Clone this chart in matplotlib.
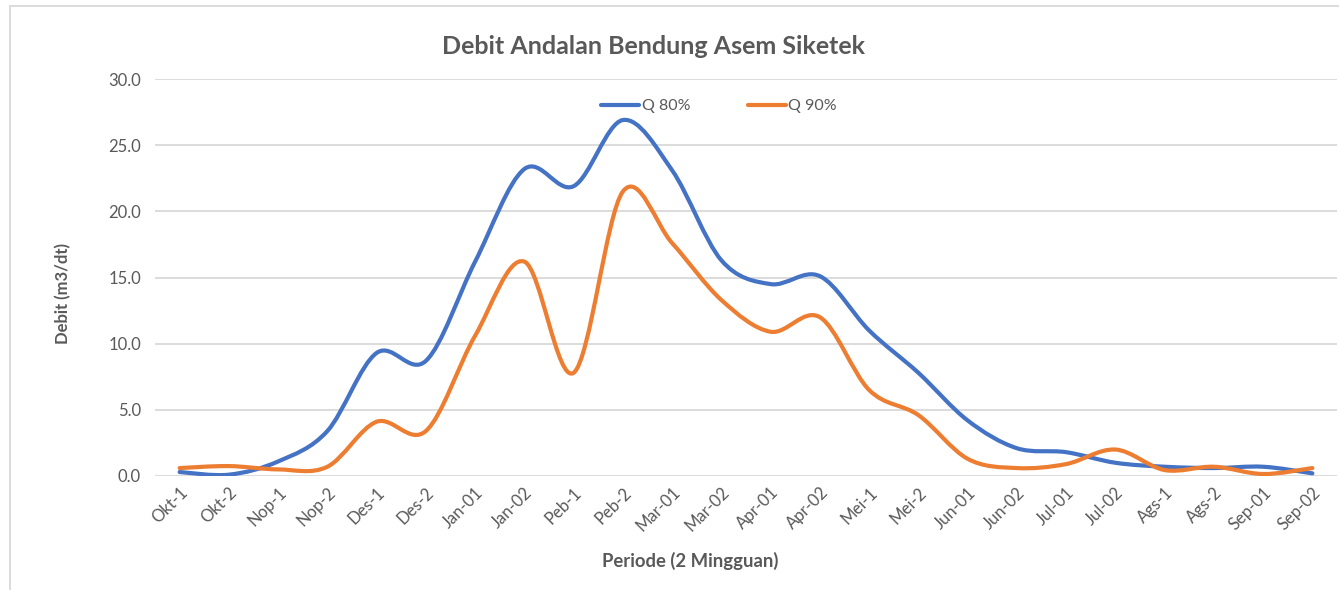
import numpy as np
import matplotlib.pyplot as plt
from matplotlib.path import Path
from matplotlib.patches import PathPatch, Rectangle
from matplotlib.lines import Line2D

plt.rcParams['font.family'] = ['Lato', 'DejaVu Sans']

periods = ['Okt-1', 'Okt-2', 'Nop-1', 'Nop-2', 'Des-1', 'Des-2', 'Jan-01', 'Jan-02',
           'Peb-1', 'Peb-2', 'Mar-01', 'Mar-02', 'Apr-01', 'Apr-02', 'Mei-1', 'Mei-2',
           'Jun-01', 'Jun-02', 'Jul-01', 'Jul-02', 'Ags-1', 'Ags-2', 'Sep-01', 'Sep-02']
q80 = [0.3, 0.1, 1.1, 3.4, 9.3, 8.7, 16.2, 23.2, 21.9, 26.9, 23.1, 16.3,
       14.5, 15.1, 11.0, 7.8, 4.2, 2.1, 1.8, 1.0, 0.7, 0.6, 0.7, 0.2]
q90 = [0.6, 0.75, 0.5, 0.7, 4.1, 3.4, 10.6, 16.2, 7.8, 21.5, 17.6, 13.3,
       10.9, 12.0, 6.5, 4.6, 1.3, 0.6, 0.9, 2.0, 0.45, 0.7, 0.15, 0.6]

gray = '#595959'


def smooth_path(x, y):
    # excel style smoothing: bezier through points, tangent = (P[i+1]-P[i-1])/6
    pts = np.column_stack([x, y]).astype(float)
    n = len(pts)
    verts = [pts[0]]
    codes = [Path.MOVETO]
    for i in range(n - 1):
        p0 = pts[max(i - 1, 0)]
        p1 = pts[i]
        p2 = pts[i + 1]
        p3 = pts[min(i + 2, n - 1)]
        verts += [p1 + (p2 - p0) / 6, p2 - (p3 - p1) / 6, p2]
        codes += [Path.CURVE4] * 3
    return Path(verts, codes)


fig = plt.figure(figsize=(13.39, 5.9), dpi=100)
W, H = 1339, 590
ax = fig.add_axes([155 / W, 1 - 476 / H, (1337 - 155) / W, (476 - 79) / H])

xs = np.arange(len(periods))
for vals, col in [(q80, '#4472C4'), (q90, '#ED7D31')]:
    ax.add_patch(PathPatch(smooth_path(xs, vals), facecolor='none', edgecolor=col,
                           lw=3, capstyle='round', joinstyle='round', zorder=3))

ax.set_xlim(-0.5, len(periods) - 0.5)
ax.set_ylim(0, 30)
ax.set_yticks(np.arange(0, 31, 5))
ax.set_yticklabels(['%.1f' % v for v in np.arange(0, 31, 5)])
ax.set_xticks(xs)
ax.set_xticklabels(periods, rotation=45, ha='right', rotation_mode='anchor')
ax.grid(axis='y', color='#d9d9d9', lw=1.3)
ax.set_axisbelow(True)
for s in ax.spines.values():
    s.set_visible(False)
ax.tick_params(length=0, colors=gray, labelsize=12)
ax.tick_params(axis='y', pad=10)
ax.tick_params(axis='x', pad=6)

fig.text(654 / W, 1 - 47 / H, 'Debit Andalan Bendung Asem Siketek', ha='center', va='center',
         fontsize=18, fontweight='bold', color=gray)
fig.text(63 / W, 1 - 293 / H, 'Debit (m3/dt)', rotation=90, ha='center', va='center',
         fontsize=12, fontweight='bold', color=gray)
fig.text(690 / W, 1 - 561 / H, 'Periode (2 Mingguan)', ha='center', va='center',
         fontsize=13.3, fontweight='bold', color=gray)

handles = [Line2D([], [], color='#4472C4', lw=3, solid_capstyle='round'),
           Line2D([], [], color='#ED7D31', lw=3, solid_capstyle='round')]
fig.legend(handles, ['Q 80%', 'Q 90%'], loc='center', bbox_to_anchor=(719 / W, 1 - 106 / H),
           ncol=2, frameon=False, fontsize=11.5, labelcolor=gray, handlelength=2.4,
           handletextpad=0.15, columnspacing=3.6)

fig.patches.append(Rectangle((10 / W, -0.02), 1.1, 1 - 6 / H + 0.02, transform=fig.transFigure,
                             fill=False, edgecolor='#d9d9d9', lw=1.3))

fig.savefig('out.png', dpi=100)
